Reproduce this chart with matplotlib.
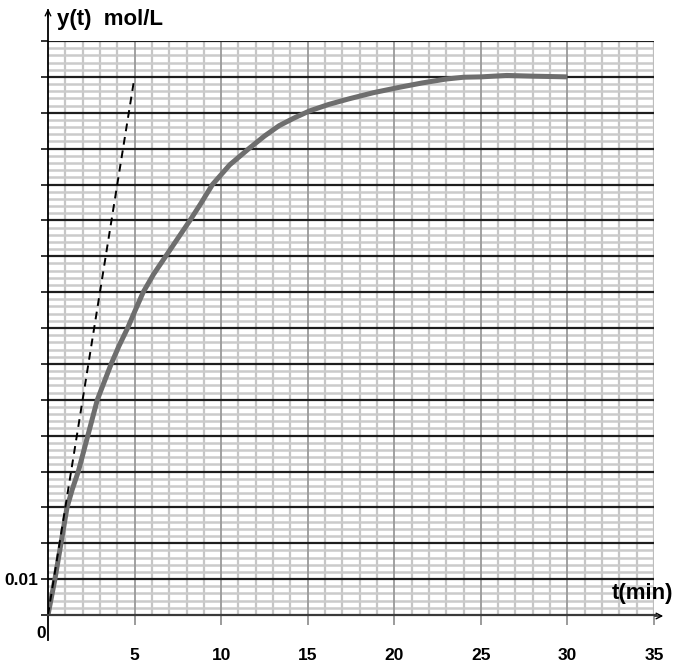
import matplotlib
matplotlib.use("Agg")
import matplotlib.pyplot as plt
from matplotlib.lines import Line2D
import numpy as np

# ---- data ----
t_curve = [0, 0.4, 0.75, 1.1, 1.4, 1.75, 2.3, 2.85, 3.25, 3.65, 4.1, 4.6, 5.0, 5.5,
           6.1, 6.8, 7.5, 8.2, 8.8, 9.5, 10.5, 11.6, 12.5, 13.35, 14.2, 15.1, 16.2,
           17.4, 18.8, 20.3, 21.6, 23.0, 24.0, 25.0, 26.5, 28.0, 30.0]
y_curve = [0, 0.01, 0.02, 0.03, 0.035, 0.04, 0.05, 0.06, 0.065, 0.07, 0.075, 0.08,
           0.0845, 0.09, 0.095, 0.10, 0.105, 0.11, 0.1145, 0.12, 0.1255, 0.13, 0.1335,
           0.1364, 0.1385, 0.1405, 0.1423, 0.1439, 0.1456, 0.1471, 0.1483, 0.1494,
           0.1499, 0.150, 0.1504, 0.1502, 0.150]
t_tangent = [0, 5]
y_tangent = [0, 0.15]
x_ticks = [5, 10, 15, 20, 25, 30, 35]
x_tick_labels = ["5", "10", "15", "20", "25", "30", "35"]
y_ticks = [0.00, 0.01, 0.02, 0.03, 0.04, 0.05, 0.06, 0.07, 0.08, 0.09, 0.10,
           0.11, 0.12, 0.13, 0.14, 0.15, 0.16]
y_tick_labels = ["", "0.01"] + [""] * 15
x_limits = [0, 35]
y_limits = [0, 0.16]

W, H = 676, 670
FONT = "Liberation Sans"
fig = plt.figure(figsize=(W / 100, H / 100), dpi=100)
ax = fig.add_axes([48 / W, (H - 615) / H, (654 - 48) / W, (615 - 41) / H])
ax.set_xlim(x_limits)
ax.set_ylim(y_limits)

# grid lines
for xv in np.arange(1, 35, 1):
    if xv % 5 != 0:
        ax.axvline(xv, color="#c6c6c6", lw=1.6, zorder=1)
for yv in np.arange(0.002, 0.16, 0.002):
    if abs(yv / 0.01 - round(yv / 0.01)) > 1e-6:
        ax.axhline(yv, color="#cbcbcb", lw=1.8, zorder=1)
for xv in [5, 10, 15, 20, 25, 30]:
    ax.axvline(xv, color="#9a9a9a", lw=1.3, zorder=2)
ax.axvline(35, color="#bdbdbd", lw=1.6, zorder=2)
for yv in y_ticks[1:]:
    ax.axhline(yv, color="#1e1e1e", lw=1.6, zorder=3)

# curves
ax.plot(t_tangent, y_tangent, color="black", lw=1.4, ls=(0, (4, 3)), zorder=5)
ax.plot(t_curve, y_curve, color="#6e6e6e", lw=3.6, solid_capstyle="butt",
        solid_joinstyle="round", zorder=4)

# spines
for s in ax.spines.values():
    s.set_visible(False)

# ticks
ax.set_xticks(x_ticks)
ax.set_xticklabels(x_tick_labels, fontsize=12.5, fontweight="bold", family=FONT)
ax.tick_params(axis="x", length=7, width=1.2, color="#8a8a8a", pad=17)
ax.set_yticks(y_ticks)
ax.set_yticklabels(y_tick_labels, fontsize=12.5, fontweight="bold", family=FONT)
ax.tick_params(axis="y", length=5, width=1.4, color="#333333", pad=2)

# axes lines (in figure pixels)
def fx(px):
    return px / W

def fy(py):
    return 1 - py / H

fig.add_artist(Line2D([fx(48), fx(48)], [fy(640), fy(10)], color="black", lw=1.3,
                      transform=fig.transFigure, zorder=10))
fig.add_artist(Line2D([fx(48), fx(656)], [fy(615), fy(615)], color="#3a3a3a", lw=1.6,
                      transform=fig.transFigure, zorder=10))
ax.annotate("", xy=(fx(48), fy(6)), xytext=(fx(48), fy(20)), xycoords="figure fraction",
            arrowprops=dict(arrowstyle="->", color="black", lw=1.0))
ax.annotate("", xy=(fx(666), fy(616)), xytext=(fx(652), fy(616)), xycoords="figure fraction",
            arrowprops=dict(arrowstyle="->", color="black", lw=1.0))

# labels
fig.text(fx(57), fy(20), "y(t)  mol/L", fontsize=16, fontweight="bold", family=FONT,
         ha="left", va="center")
fig.text(fx(612), fy(593), "t(min)", fontsize=16, fontweight="bold", family=FONT,
         ha="left", va="center")
fig.text(fx(41), fy(633), "0", fontsize=12.5, fontweight="bold", family=FONT,
         ha="center", va="center")

fig.savefig("out.png", dpi=100)
